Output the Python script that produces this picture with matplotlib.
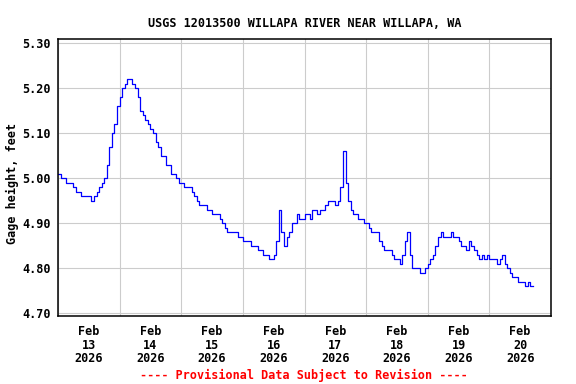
import pandas as pd
import matplotlib
matplotlib.use('Agg')
import matplotlib.pyplot as plt
import matplotlib.dates as mdates
from matplotlib.ticker import MultipleLocator, FormatStrFormatter

title = 'USGS 12013500 WILLAPA RIVER NEAR WILLAPA, WA'
ylabel = 'Gage height, feet'
footer = '---- Provisional Data Subject to Revision ----'

# hourly gage height readings starting 2026-02-13 00:00
start = '2026-02-13 00:00'
gage_ft = [
    5.01, 5.00, 5.00, 4.99, 4.99, 4.99, 4.98, 4.97, 4.97, 4.96,
    4.96, 4.96, 4.96, 4.95, 4.96, 4.97, 4.98, 4.99, 5.00, 5.03,
    5.07, 5.10, 5.12, 5.16, 5.18, 5.20, 5.21, 5.22, 5.22, 5.21,
    5.20, 5.18, 5.15, 5.14, 5.13, 5.12, 5.11, 5.10, 5.08, 5.07,
    5.05, 5.05, 5.03, 5.03, 5.01, 5.01, 5.00, 4.99, 4.99, 4.98,
    4.98, 4.98, 4.97, 4.96, 4.95, 4.94, 4.94, 4.94, 4.93, 4.93,
    4.92, 4.92, 4.92, 4.91, 4.90, 4.89, 4.88, 4.88, 4.88, 4.88,
    4.87, 4.87, 4.86, 4.86, 4.86, 4.85, 4.85, 4.85, 4.84, 4.84,
    4.83, 4.83, 4.82, 4.82, 4.83, 4.86, 4.93, 4.88, 4.85, 4.87,
    4.88, 4.90, 4.90, 4.92, 4.91, 4.91, 4.92, 4.92, 4.91, 4.93,
    4.93, 4.92, 4.93, 4.93, 4.94, 4.95, 4.95, 4.95, 4.94, 4.95,
    4.98, 5.06, 4.99, 4.95, 4.93, 4.92, 4.92, 4.91, 4.91, 4.90,
    4.90, 4.89, 4.88, 4.88, 4.88, 4.86, 4.85, 4.84, 4.84, 4.84,
    4.83, 4.82, 4.82, 4.81, 4.83, 4.86, 4.88, 4.83, 4.80, 4.80,
    4.80, 4.79, 4.79, 4.80, 4.81, 4.82, 4.83, 4.85, 4.87, 4.88,
    4.87, 4.87, 4.87, 4.88, 4.87, 4.87, 4.86, 4.85, 4.85, 4.84,
    4.86, 4.85, 4.84, 4.83, 4.82, 4.83, 4.82, 4.83, 4.82, 4.82,
    4.82, 4.81, 4.82, 4.83, 4.81, 4.80, 4.79, 4.78, 4.78, 4.77,
    4.77, 4.77, 4.76, 4.77, 4.76, 4.76,
]
times = pd.date_range(start, periods=len(gage_ft), freq='h')

x_start = pd.Timestamp('2026-02-13')
x_end = pd.Timestamp('2026-02-21')
y_min, y_max = 4.70, 5.30

font = {'family': 'DejaVu Sans Mono', 'weight': 'bold', 'size': 8.5}

fig = plt.figure(figsize=(5.76, 3.84), dpi=100)
ax = fig.add_axes([58 / 576, 1 - 315.7 / 384, 493 / 576, 276.4 / 384])

ax.plot(times, gage_ft, color='#0000ff', linewidth=0.9, drawstyle='steps-post')

ax.set_xlim(x_start, x_end)
ax.set_ylim(y_min - 0.005, y_max + 0.009)

# gridlines at midnight, labels at noon
ax.xaxis.set_major_locator(mdates.DayLocator())
ax.xaxis.set_major_formatter(plt.NullFormatter())
ax.xaxis.set_minor_locator(mdates.HourLocator(byhour=[12]))
ax.xaxis.set_minor_formatter(mdates.DateFormatter('%b\n%d\n%Y'))
ax.yaxis.set_major_locator(MultipleLocator(0.1))
ax.yaxis.set_major_formatter(FormatStrFormatter('%.2f'))

ax.tick_params(axis='both', which='both', length=0)
ax.tick_params(axis='x', which='minor', pad=7)
ax.tick_params(axis='y', pad=5)
for lbl in ax.get_xticklabels(minor=True):
    lbl.set_family(font['family'])
    lbl.set_weight('bold')
    lbl.set_size(font['size'])
    lbl.set_linespacing(1.05)
for lbl in ax.get_yticklabels():
    lbl.set_family(font['family'])
    lbl.set_weight('bold')
    lbl.set_size(font['size'])

ax.grid(True, which='major', color='#cccccc', linewidth=0.8)
ax.set_axisbelow(True)
for s in ax.spines.values():
    s.set_linewidth(1.1)
    s.set_color('black')

ax.set_title(title, pad=9, fontdict=font)
ax.set_ylabel(ylabel, fontdict=font)
ax.yaxis.set_label_coords(-0.08, 0.48)

fig.text(304 / 576, 1 - 375 / 384, footer, color='#ff0000', ha='center', va='center', **font)

fig.savefig('out.png', dpi=100)
